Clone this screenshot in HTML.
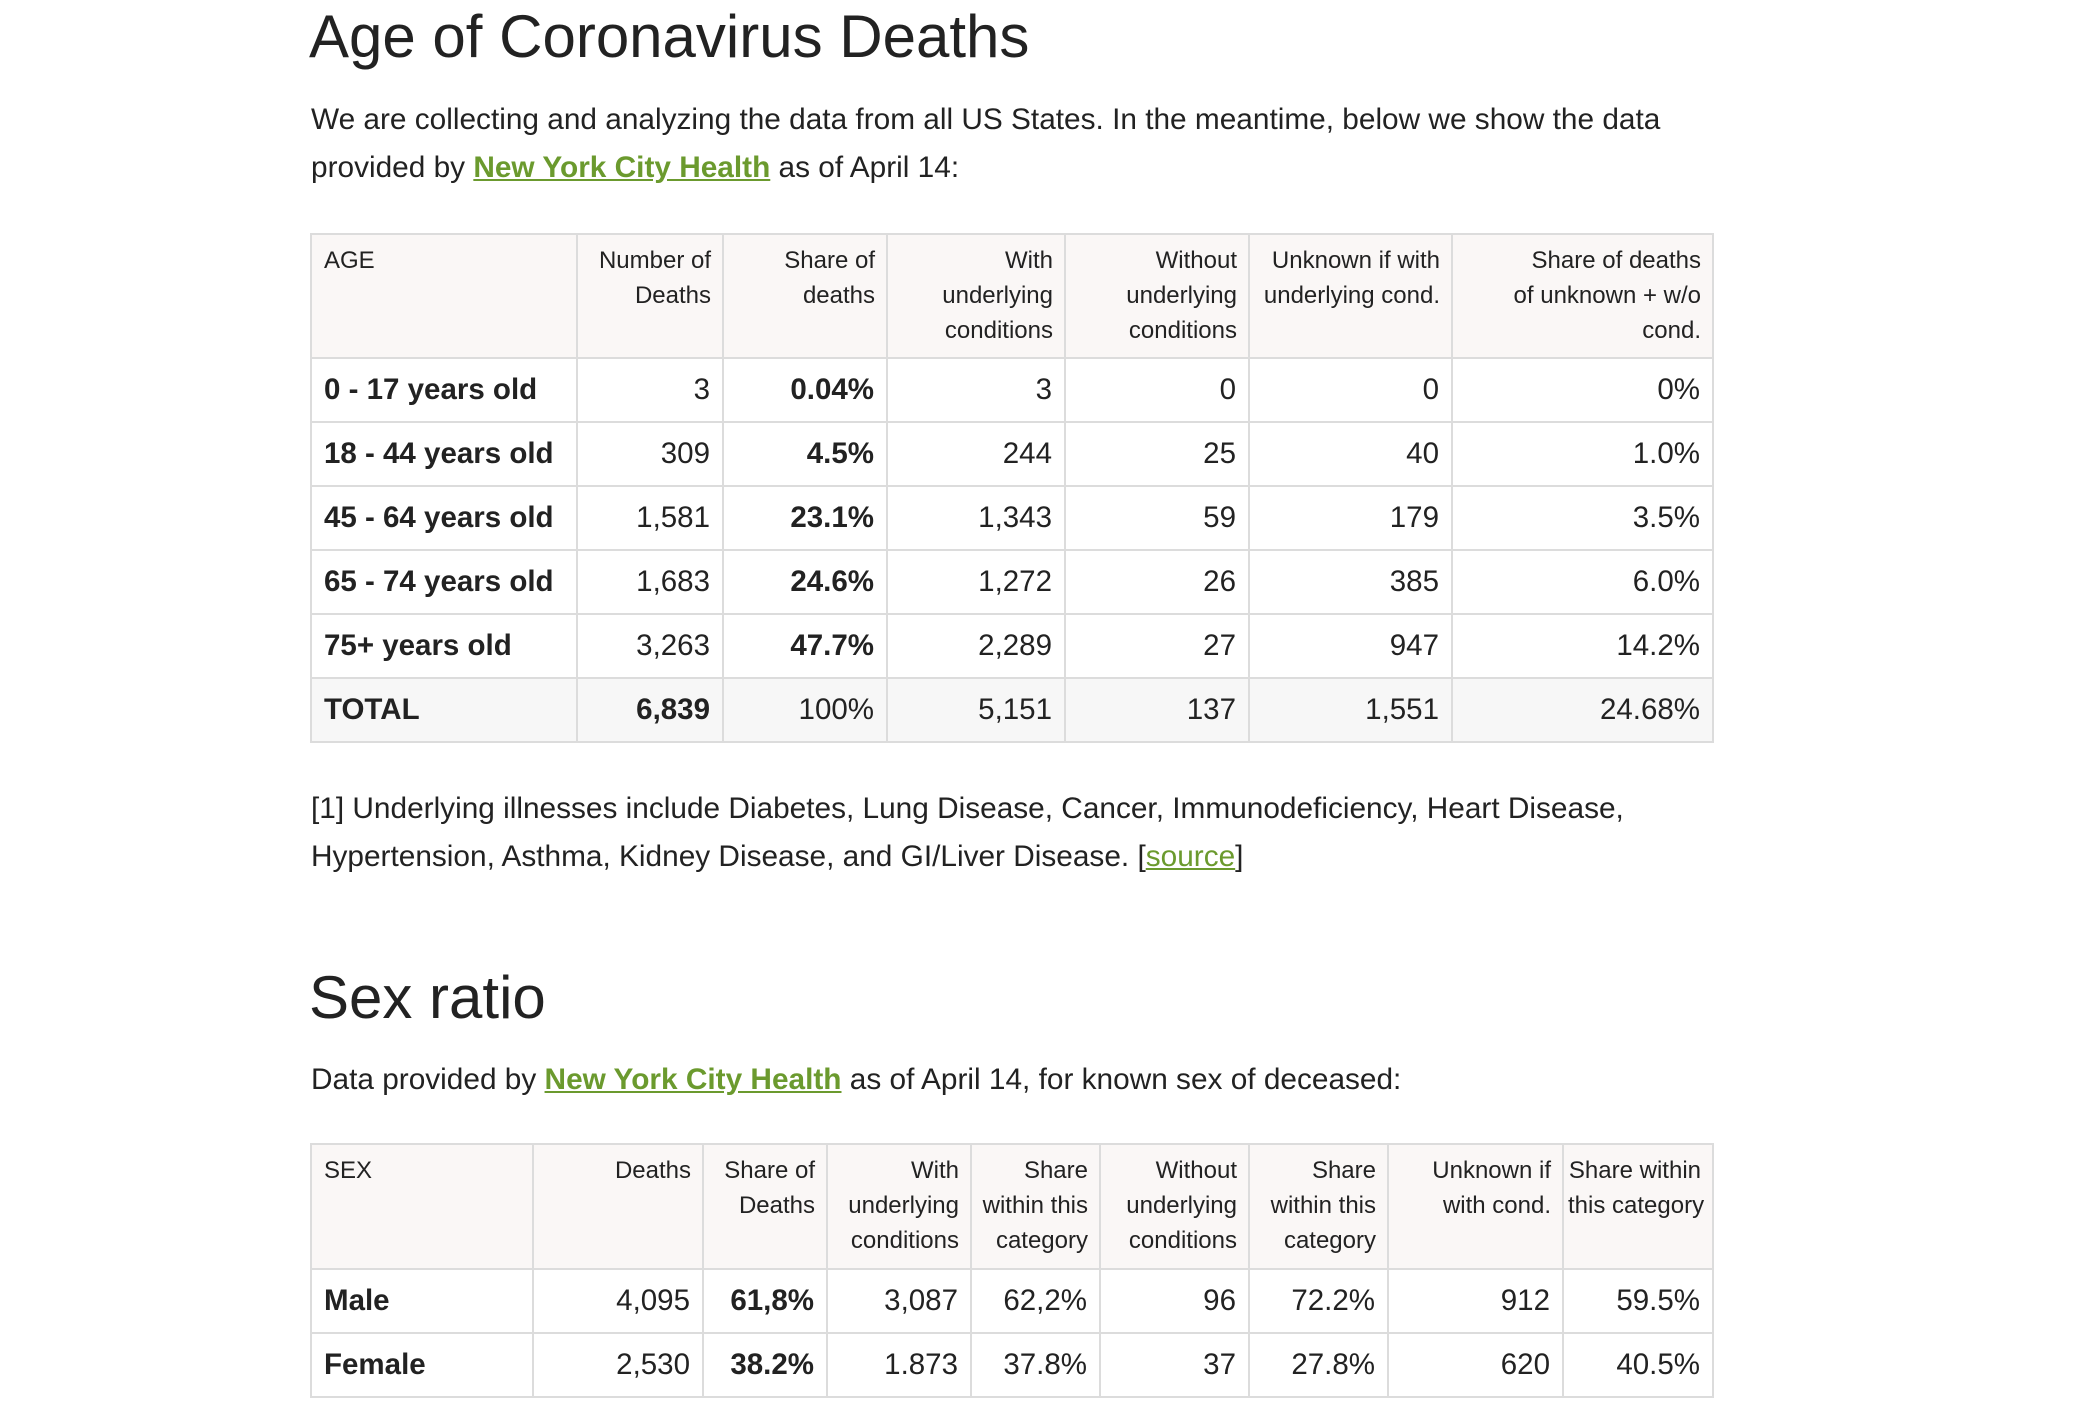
<!DOCTYPE html>
<html><head><meta charset="utf-8"><style>
body{margin:0;width:2084px;height:1410px;overflow:hidden;background:#fff;font-family:"Liberation Sans",Arial,sans-serif;color:#222;position:relative}
h1{position:absolute;left:309px;margin:0;font-weight:normal;font-size:60px;line-height:74px;color:#222}
p{position:absolute;left:311px;margin:0;font-size:29.8px;line-height:48px;width:1440px}
a{color:#6b9a2e;font-weight:bold;text-decoration:underline}
a.plain{font-weight:normal}
table{position:absolute;left:310px;border-collapse:collapse;table-layout:fixed;width:1402px}
td,th{border:2px solid #dcdcdc;padding:0 12px;text-align:right;font-size:29.5px;vertical-align:middle;overflow:hidden;white-space:nowrap}
tr{height:64px}
th{font-weight:normal;font-size:24px;line-height:35px;vertical-align:top;padding-top:8px;background:#faf7f6;padding-left:4px;padding-right:11px}
th:first-child{padding-left:12px}
th:first-child,td:first-child{text-align:left}
td:first-child{font-weight:bold}
tr.total td{background:#f7f7f7}
.b{font-weight:bold}
</style></head><body>
<h1 style="top:0">Age of Coronavirus Deaths</h1>
<p style="top:96px">We are collecting and analyzing the data from all US States. In the meantime, below we show the data provided by <a>New York City Health</a> as of April 14:</p>
<table style="top:233px">
<colgroup><col style="width:266px"><col style="width:146px"><col style="width:164px"><col style="width:178px"><col style="width:184px"><col style="width:203px"><col style="width:261px"></colgroup>
<tr style="height:124px"><th>AGE</th><th>Number of<br>Deaths</th><th>Share of<br>deaths</th><th>With<br>underlying<br>conditions</th><th>Without<br>underlying<br>conditions</th><th>Unknown if with<br>underlying cond.</th><th>Share of deaths<br>of unknown + w/o<br>cond.</th></tr>
<tr><td>0 - 17 years old</td><td>3</td><td class="b">0.04%</td><td>3</td><td>0</td><td>0</td><td>0%</td></tr>
<tr><td>18 - 44 years old</td><td>309</td><td class="b">4.5%</td><td>244</td><td>25</td><td>40</td><td>1.0%</td></tr>
<tr><td>45 - 64 years old</td><td>1,581</td><td class="b">23.1%</td><td>1,343</td><td>59</td><td>179</td><td>3.5%</td></tr>
<tr><td>65 - 74 years old</td><td>1,683</td><td class="b">24.6%</td><td>1,272</td><td>26</td><td>385</td><td>6.0%</td></tr>
<tr><td>75+ years old</td><td>3,263</td><td class="b">47.7%</td><td>2,289</td><td>27</td><td>947</td><td>14.2%</td></tr>
<tr class="total"><td>TOTAL</td><td class="b">6,839</td><td>100%</td><td>5,151</td><td>137</td><td>1,551</td><td>24.68%</td></tr>
</table>
<p style="top:785px">[1] Underlying illnesses include Diabetes, Lung Disease, Cancer, Immunodeficiency, Heart Disease, Hypertension, Asthma, Kidney Disease, and GI/Liver Disease. [<a class="plain">source</a>]</p>
<h1 style="top:961px">Sex ratio</h1>
<p style="top:1056px">Data provided by <a>New York City Health</a> as of April 14, for known sex of deceased:</p>
<table style="top:1143px">
<colgroup><col style="width:222px"><col style="width:170px"><col style="width:124px"><col style="width:144px"><col style="width:129px"><col style="width:149px"><col style="width:139px"><col style="width:175px"><col style="width:150px"></colgroup>
<tr style="height:125px"><th>SEX</th><th>Deaths</th><th>Share of<br>Deaths</th><th>With<br>underlying<br>conditions</th><th>Share<br>within this<br>category</th><th>Without<br>underlying<br>conditions</th><th>Share<br>within this<br>category</th><th>Unknown if<br>with cond.</th><th>Share within<br>this category</th></tr>
<tr><td>Male</td><td>4,095</td><td class="b">61,8%</td><td>3,087</td><td>62,2%</td><td>96</td><td>72.2%</td><td>912</td><td>59.5%</td></tr>
<tr><td>Female</td><td>2,530</td><td class="b">38.2%</td><td>1.873</td><td>37.8%</td><td>37</td><td>27.8%</td><td>620</td><td>40.5%</td></tr>
</table>
</body></html>
